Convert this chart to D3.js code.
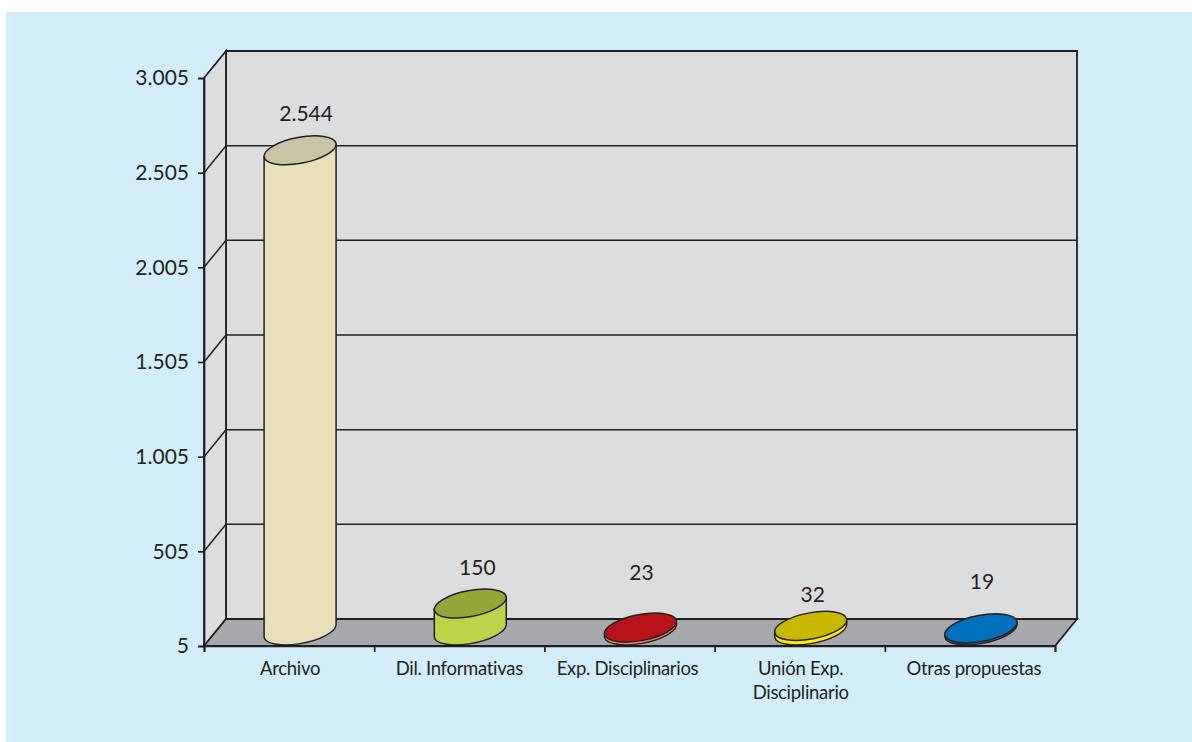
<!DOCTYPE html>
<meta charset="utf-8">
<style>
html, body { margin: 0; padding: 0; background: #fff; }
svg { display: block; }
text { font-family: "Lato", sans-serif; fill: #231f20; }
.axis path, .axis line { stroke: #231f20; stroke-width: 1.7px; }
.axis text { font-size: 21px; }
.cat { font-size: 18.5px; text-anchor: middle; letter-spacing: -0.3px; }
.val { font-size: 21px; text-anchor: middle; }
.wall { stroke: #231f20; stroke-width: 1.8px; }
.grid { stroke: #231f20; stroke-width: 1.5px; fill: none; }
.cyl { stroke: #231f20; stroke-width: 1.5px; }
</style>
<svg width="1192" height="742"></svg>
<script src="https://cdn.jsdelivr.net/npm/d3@7"></script>
<script>
var categories = ["Archivo", "Dil. Informativas", "Exp. Disciplinarios", "Unión Exp.|Disciplinario", "Otras propuestas"];
var values = [2544, 150, 23, 32, 19];
var valueLabels = ["2.544", "150", "23", "32", "19"];
var yTicks = [5, 505, 1005, 1505, 2005, 2505, 3005];
var yTickLabels = ["5", "505", "1.005", "1.505", "2.005", "2.505", "3.005"];
var sideColors = ["#e8e0bb", "#bdd44a", "#ee8a5e", "#ffee00", "#3d5f8f"];
var topColors = ["#c9c4a5", "#95a637", "#b81318", "#c8b800", "#0070bc"];

// hand placed labels in the original, these are the offsets from the computed spot
var catNudge = [1, 0, -2, 1, 4];
var valNudgeX = [6, 7, 1, 2, 1];
var valNudgeY = [-37, -36, -55, -31, -47];

var svg = d3.select("svg"),
    left = 204, right = 1055, top_ = 78, bottom = 646,
    depthX = 22, depthY = -27;

var x = d3.scaleBand().domain(d3.range(categories.length)).range([left, right]),
    xEdge = d3.scaleLinear().domain([0, categories.length]).range([left, right]),
    y = d3.scaleLinear().domain([5, 3005]).range([bottom, top_]);

svg.append("rect").attr("x", 6).attr("y", 12).attr("width", 1186).attr("height", 730).attr("fill", "#d2eefb");

function pts(a) { return a.map(function(p) { return p.join(","); }).join(" "); }

// walls
svg.append("polygon").attr("class", "wall").attr("fill", "#dcddde")
    .attr("points", pts([[left + depthX, top_ + depthY], [right + depthX, top_ + depthY], [right + depthX, bottom + depthY], [left + depthX, bottom + depthY]]));
svg.append("polygon").attr("class", "wall").attr("fill", "#dcddde")
    .attr("points", pts([[left, top_], [left + depthX, top_ + depthY], [left + depthX, bottom + depthY], [left, bottom]]));
svg.append("polygon").attr("class", "wall").attr("fill", "#a7a8ab")
    .attr("points", pts([[left, bottom], [left + depthX, bottom + depthY], [right + depthX, bottom + depthY], [right, bottom]]));

// gridlines wrap round the side wall and the back wall
svg.selectAll(".grid").data(yTicks.slice(1, -1)).enter().append("polyline")
    .attr("class", "grid")
    .attr("points", function(d) {
      return pts([[left, y(d)], [left + depthX, y(d) + depthY], [right + depthX, y(d) + depthY]]);
    });

var yAxis = d3.axisLeft(y).tickValues(yTicks).tickSize(6).tickPadding(9)
    .tickFormat(function(d, i) { return yTickLabels[i]; });
svg.append("g").attr("class", "axis").attr("transform", "translate(" + left + ",0)").call(yAxis);

var xAxis = d3.axisBottom(xEdge).ticks(categories.length).tickSize(6).tickFormat("");
svg.append("g").attr("class", "axis").attr("transform", "translate(0," + bottom + ")").call(xAxis);

// cylinders
var a = 36.6, b = 13, rot = -10.8, halfW = 36, lift = 15, tang = 6;

var bar = svg.selectAll(".bar").data(values).enter().append("g").attr("class", "bar");

bar.append("path").attr("class", "cyl")
    .attr("fill", function(d, i) { return sideColors[i]; })
    .attr("d", function(d, i) {
      var cx = x(i) + x.bandwidth() / 2 + depthX / 2,
          top = y(d) - lift,
          base = y(5) - lift;
      return "M" + (cx - halfW) + "," + (top + tang) +
        "L" + (cx - halfW) + "," + (base + tang) +
        "A" + a + "," + b + " " + rot + " 0 0 " + (cx + halfW) + "," + (base - tang) +
        "L" + (cx + halfW) + "," + (top - tang) + "Z";
    });

bar.append("ellipse").attr("class", "cyl")
    .attr("rx", a).attr("ry", b)
    .attr("fill", function(d, i) { return topColors[i]; })
    .attr("transform", function(d, i) {
      return "translate(" + (x(i) + x.bandwidth() / 2 + depthX / 2) + "," + (y(d) - lift) + ") rotate(" + rot + ")";
    });

bar.append("text").attr("class", "val")
    .attr("x", function(d, i) { return x(i) + x.bandwidth() / 2 + depthX / 2 + valNudgeX[i]; })
    .attr("y", function(d, i) { return y(d) - lift + valNudgeY[i]; })
    .attr("dy", "0.35em")
    .text(function(d, i) { return valueLabels[i]; });

// category labels, | marks a line break
svg.selectAll(".cat").data(categories).enter().append("text")
    .attr("class", "cat")
    .attr("y", 675)
    .each(function(d, i) {
      var cx = x(i) + x.bandwidth() / 2 + catNudge[i];
      d3.select(this).selectAll("tspan").data(d.split("|")).enter().append("tspan")
          .attr("x", cx)
          .attr("dy", function(s, j) { return j ? 24 : 0; })
          .text(function(s) { return s; });
    });
</script>
